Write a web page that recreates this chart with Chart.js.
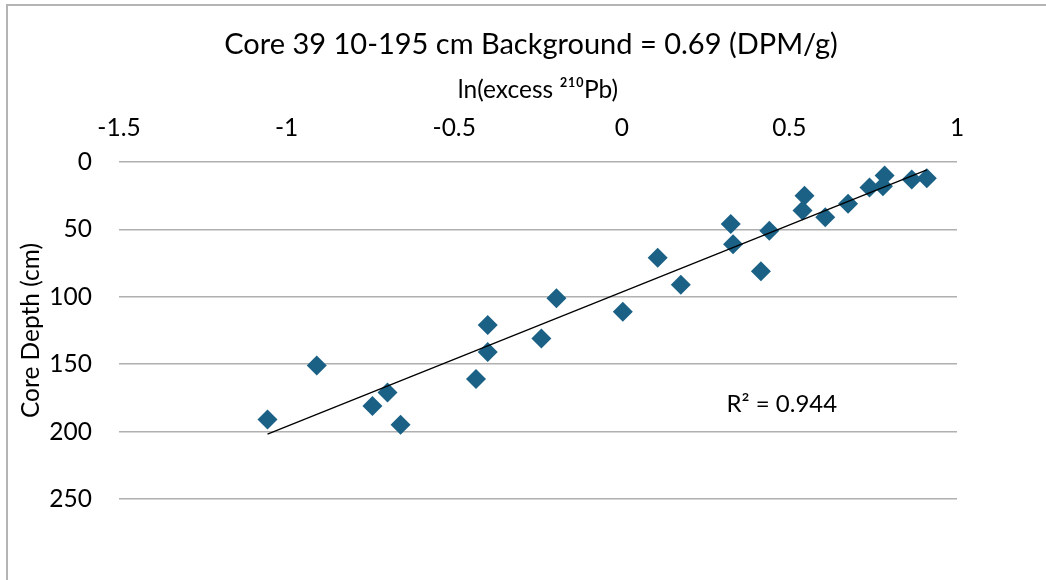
<!DOCTYPE html>
<html><head><meta charset="utf-8">
<script src="https://cdn.jsdelivr.net/npm/chart.js@4.4.1/dist/chart.umd.min.js"></script>
<style>
html,body{margin:0;padding:0;background:#fff;}
#wrap{position:absolute;left:0;top:0;width:1046px;height:580px;}
#frame{position:absolute;left:6px;top:4px;width:1040px;height:576px;border-left:2px solid #b4b4b4;border-top:2px solid #b4b4b4;box-sizing:border-box;pointer-events:none;}
canvas{position:absolute;left:0;top:0;}
</style></head><body>
<div id="wrap"><canvas id="c" width="1046" height="580"></canvas><div id="frame"></div></div>
<script>
// ln(excess 210Pb) values
const lnExcess = [0.91, 0.865, 0.784, 0.779, 0.739, 0.675, 0.607, 0.545, 0.539, 0.44, 0.415, 0.332, 0.325, 0.176, 0.107, 0.003, -0.195, -0.24, -0.40, -0.40, -0.435, -0.66, -0.699, -0.744, -0.91, -1.057];
// core depth (cm)
const depthCm = [12, 13, 10, 18, 19, 31, 41, 25, 36, 51, 81, 61, 46, 91, 71, 111, 101, 131, 141, 121, 161, 195, 171, 181, 151, 191];
const xTicks = [-1.5, -1, -0.5, 0, 0.5, 1];
const yTicks = [0, 50, 100, 150, 200, 250];
const titleText = 'Core 39 10-195 cm Background = 0.69 (DPM/g)';
const xTitle = 'ln(excess ²¹⁰Pb)';
const yTitle = 'Core Depth (cm)';
const r2Text = 'R² = 0.944';

// least-squares trendline depth = a + b*x
const n = lnExcess.length;
const mx = lnExcess.reduce((s,v)=>s+v,0)/n;
const my = depthCm.reduce((s,v)=>s+v,0)/n;
let sxy=0, sxx=0;
for(let i=0;i<n;i++){sxy+=(lnExcess[i]-mx)*(depthCm[i]-my);sxx+=(lnExcess[i]-mx)**2;}
const slope = sxy/sxx, icpt = my - slope*mx;
const xmin = Math.min(...lnExcess), xmax = Math.max(...lnExcess);

const FONT = 'Lato';
const textPlugin = {
  id:'texts',
  afterDraw(chart){
    const {ctx, scales:{x,y}, chartArea} = chart;
    ctx.save();
    ctx.fillStyle = '#000';
    // chart title
    ctx.font = '29px ' + FONT;
    ctx.textAlign = 'center';
    ctx.textBaseline = 'middle';
    ctx.fillText(titleText, (chartArea.left + chartArea.right)/2 - 7, 45);
    // R squared label
    ctx.font = '24px ' + FONT;
    ctx.textAlign = 'left';
    ctx.fillText(r2Text, x.getPixelForValue(0.3125), y.getPixelForValue(179.5));
    ctx.restore();
  }
};

new Chart(document.getElementById('c'), {
  type:'scatter',
  data:{datasets:[
    {label:'data', data: lnExcess.map((v,i)=>({x:v,y:depthCm[i]})),
     pointStyle:'rectRot', pointRadius:10, pointHoverRadius:10,
     backgroundColor:'#1a6185', borderColor:'#1a6185', borderWidth:0, order:2},
    {label:'trend', type:'line', data:[{x:xmin,y:icpt+slope*xmin},{x:xmax,y:icpt+slope*xmax}],
     borderColor:'#000', borderWidth:1.3, pointRadius:0, fill:false, order:1}
  ]},
  options:{
    responsive:false, animation:false,
    layout:{padding:{left:0,right:89,top:62,bottom:81}},
    plugins:{ legend:{display:false}, tooltip:{enabled:false}, title:{display:false} },
    scales:{
      x:{type:'linear', position:'top', min:-1.5, max:1,
        afterBuildTicks(s){ s.ticks = xTicks.map(v=>({value:v})); },
        afterFit(s){ s.height = 100; },
        grid:{display:false, drawTicks:false}, border:{display:false},
        ticks:{color:'#000', font:{family:FONT,size:24.5,lineHeight:1.2}, padding:19, maxRotation:0,
          callback:(v)=>String(v)},
        title:{display:true, text:xTitle, color:'#000', font:{family:FONT,size:24.5,lineHeight:1.2}, padding:{top:13,bottom:0}}
      },
      y:{type:'linear', reverse:true, min:0, max:250,
        afterBuildTicks(s){ s.ticks = yTicks.map(v=>({value:v})); },
        afterFit(s){ s.width = 119; },
        grid:{color:'#b0b0b0', lineWidth:1.5, drawTicks:false}, border:{display:false},
        ticks:{color:'#000', font:{family:FONT,size:24.5}, padding:27, callback:(v)=>String(v)},
        title:{display:true, text:yTitle, color:'#000', font:{family:FONT,size:24.5,lineHeight:1.2}, padding:{top:16,bottom:0}}
      }
    }
  },
  plugins:[textPlugin]
});
</script>
</body></html>
